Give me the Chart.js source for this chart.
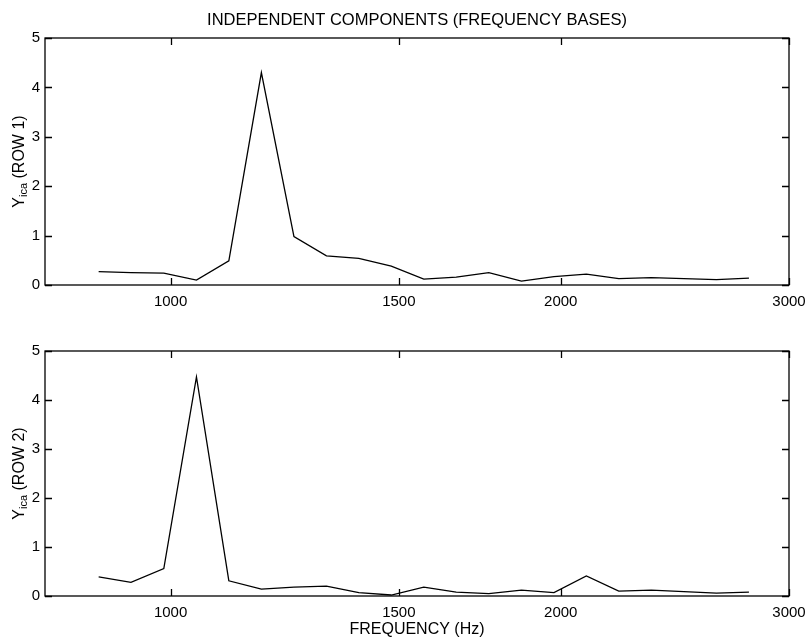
<!DOCTYPE html>
<html>
<head>
<meta charset="utf-8">
<script src="https://cdn.jsdelivr.net/npm/chart.js@4.4.0/dist/chart.umd.min.js"></script>
<style>
  html, body { margin: 0; padding: 0; background: #fff; }
  #wrap { position: relative; width: 807px; height: 639px; }
  canvas { position: absolute; left: 0; }
</style>
</head>
<body>
<div id="wrap">
  <canvas id="row1" width="807" height="320" style="top:0"></canvas>
  <canvas id="row2" width="807" height="319" style="top:320px"></canvas>
</div>
<script>
// frequency bases (Hz), semitone steps
const freqs = [880, 932, 988, 1047, 1109, 1175, 1245, 1319, 1397, 1480, 1568,
  1661, 1760, 1865, 1976, 2093, 2217, 2349, 2489, 2637, 2794];
const row1 = [0.27, 0.25, 0.24, 0.10, 0.49, 4.30, 0.98, 0.59, 0.54, 0.38, 0.12,
  0.16, 0.25, 0.08, 0.17, 0.22, 0.13, 0.15, 0.13, 0.11, 0.14];
const row2 = [0.39, 0.28, 0.56, 4.47, 0.31, 0.14, 0.18, 0.20, 0.07, 0.02, 0.18,
  0.08, 0.05, 0.12, 0.07, 0.41, 0.10, 0.12, 0.09, 0.06, 0.08];
const xTicks = [1000, 1500, 2000, 3000];
const yTicks = [0, 1, 2, 3, 4, 5];

const FONT = '"Liberation Sans", Arial, Helvetica, sans-serif';

// box around the plot, inward ticks on all sides, and the Y_ica label
const framePlugin = {
  id: 'frame',
  afterDraw(chart, args, opts) {
    const {ctx, chartArea: a, scales: {x, y}} = chart;
    const len = 7;
    ctx.save();
    ctx.strokeStyle = '#000';
    ctx.lineWidth = 1.3;
    ctx.strokeRect(a.left, a.top, a.right - a.left, a.bottom - a.top);
    ctx.beginPath();
    x.ticks.forEach(t => {
      const px = Math.round(x.getPixelForValue(t.value)) + 0.5;
      ctx.moveTo(px, a.bottom); ctx.lineTo(px, a.bottom - len);
      ctx.moveTo(px, a.top); ctx.lineTo(px, a.top + len);
    });
    y.ticks.forEach(t => {
      const py = Math.round(y.getPixelForValue(t.value)) + 0.5;
      ctx.moveTo(a.left, py); ctx.lineTo(a.left + len, py);
      ctx.moveTo(a.right, py); ctx.lineTo(a.right - len, py);
    });
    ctx.stroke();

    // rotated axis label with subscript
    const cy = (a.top + a.bottom) / 2;
    ctx.translate(20, cy);
    ctx.rotate(-Math.PI / 2);
    ctx.fillStyle = '#000';
    ctx.textBaseline = 'middle';
    ctx.textAlign = 'left';
    const big = '16px ' + FONT, small = '11px ' + FONT;
    const parts = [['Y', big, 0], ['ica', small, 4], [' (' + opts.label + ')', big, 0]];
    let total = 0;
    parts.forEach(p => { ctx.font = p[1]; total += ctx.measureText(p[0]).width; });
    let cx = -total / 2;
    parts.forEach(p => {
      ctx.font = p[1];
      ctx.fillText(p[0], cx, p[2]);
      cx += ctx.measureText(p[0]).width;
    });
    ctx.restore();
  }
};

function makeChart(id, values, opts) {
  const ctx = document.getElementById(id).getContext('2d');
  return new Chart(ctx, {
    type: 'line',
    data: {
      datasets: [{
        data: freqs.map((f, i) => ({x: f, y: values[i]})),
        borderColor: '#000',
        borderWidth: 1.3,
        pointRadius: 0,
        tension: 0,
        fill: false,
      }]
    },
    options: {
      responsive: false,
      animation: false,
      events: [],
      layout: {padding: {top: opts.padTop, right: 18, left: 0, bottom: 0}},
      plugins: {
        legend: {display: false},
        tooltip: {enabled: false},
        title: {
          display: !!opts.title,
          text: opts.title,
          color: '#000',
          fullSize: false,
          font: {family: FONT, size: 16.5, weight: 'normal'},
          padding: {top: 10.1, bottom: 8.1},
        },
        frame: {label: opts.label},
      },
      scales: {
        x: {
          type: 'logarithmic',
          min: 800,
          max: 3000,
          afterBuildTicks: s => { s.ticks = xTicks.map(v => ({value: v})); },
          afterFit: s => { s.height = opts.xHeight; s.paddingLeft = 0; s.paddingRight = 0; },
          grid: {drawOnChartArea: false, drawTicks: false},
          border: {display: false},
          ticks: {
            autoSkip: false,
            maxRotation: 0,
            padding: 8,
            color: '#000',
            font: {family: FONT, size: 15},
            callback: v => String(v),
          },
          title: {
            display: !!opts.xTitle,
            text: opts.xTitle,
            color: '#000',
            font: {family: FONT, size: 16},
            padding: {top: 0, bottom: 0},
          },
        },
        y: {
          min: 0,
          max: 5,
          afterBuildTicks: s => { s.ticks = yTicks.map(v => ({value: v})); },
          afterFit: s => { s.width = 45; },
          grid: {drawOnChartArea: false, drawTicks: false},
          border: {display: false},
          ticks: {
            padding: 5,
            color: '#000',
            font: {family: FONT, size: 15},
          },
        },
      },
    },
    plugins: [framePlugin],
  });
}

makeChart('row1', row1, {
  title: 'INDEPENDENT COMPONENTS (FREQUENCY BASES)',
  label: 'ROW 1',
  padTop: 0,
  xHeight: 35,
});
makeChart('row2', row2, {
  label: 'ROW 2',
  xTitle: 'FREQUENCY (Hz)',
  padTop: 31,
  xHeight: 43,
});
</script>
</body>
</html>
